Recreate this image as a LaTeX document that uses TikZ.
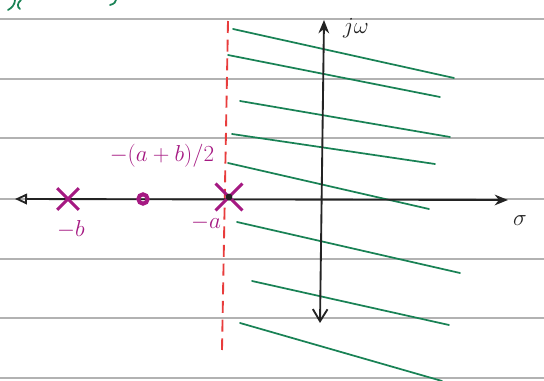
\documentclass[tikz,border=0pt]{standalone}
\usetikzlibrary{arrows.meta,shapes.misc}

\definecolor{pen}{RGB}{35,35,35}
\definecolor{polepen}{RGB}{165,25,130}
\definecolor{hatchpen}{RGB}{25,130,85}
\definecolor{edgepen}{RGB}{232,60,60}
\definecolor{ruling}{RGB}{178,178,178}

\tikzset{every picture/.style={line width=0.75pt}}
\tikzset{
  rule/.style={color=ruling, line width=0.8pt},
  axis/.style={color=pen, line width=1.4pt},
  hatch/.style={color=hatchpen, line width=1.3pt, line cap=round},
  boundary/.style={color=edgepen, line width=1.4pt, dash pattern=on 9pt off 5pt},
  pole/.style={cross out, draw=polepen, line width=2.2pt, inner sep=0pt},
  zero/.style={circle, draw=polepen, line width=3pt, minimum size=7pt, inner sep=0pt},
  polelabel/.style={text=polepen, font=\fontsize{17}{20}\selectfont, inner sep=0.75pt},
  axislabel/.style={text=pen, font=\fontsize{17}{20}\selectfont, inner sep=0.75pt}
}

\begin{document}
\begin{tikzpicture}[x=0.75pt,y=0.75pt,yscale=-1,xscale=1]
\useasboundingbox (0,0) rectangle (544,381);

%Ruled paper
\foreach \yy in {19,79,138,199,259,318,378}
  \draw [rule] (0,\yy) -- (544,\yy) ;

%Cut-off heading
\draw [hatch] (8,10) .. controls (12,8) and (15,4) .. (15,0) ;
\draw [hatch] (21,0) .. controls (17,3) and (17,7) .. (20,9) ;
\draw [hatch] (110,5) .. controls (114,4) and (116,2) .. (116,0) ;

%Hatched region
\draw [hatch] (233,29) -- (454,78) ;
\draw [hatch] (228,55) -- (440,97) ;
\draw [hatch] (240,101) -- (450,137) ;
\draw [hatch] (232,134) -- (435,164) ;
\draw [hatch] (228,163) -- (429,209) ;
\draw [hatch] (237,222) -- (460,273) ;
\draw [hatch] (252,281) -- (449,325) ;
\draw [hatch] (240,323) -- (442,381) ;

%Boundary at -a
\coordinate (bt) at (228,21) ;
\coordinate (bb) at (222,350) ;
\draw [boundary] (bt) -- (bb) ;

%Axes
\coordinate (sl) at (15,199) ;
\coordinate (sr) at (508,200) ;
\coordinate (jt) at (324,20) ;
\coordinate (jb) at (320,323) ;
\draw [axis, {Triangle[open,length=9pt,width=8pt]}-{Stealth[length=10pt,width=8pt]}] (sl) -- (sr) ;
\draw [axis, {Straight Barb[length=9pt,width=11pt]}-{Stealth[length=10pt,width=8pt]}] (jb) -- (jt) ;

% Poles and zero
\node [pole, minimum size=14pt] (pb) at (68,199) {} ;
\node [zero] (zab) at (143,199) {} ;
\node [pole, minimum size=18pt] (pa) at (229,197) {} ;
\fill [pen] (pa) circle [radius=3.4] ;

% Text Node
\node [polelabel] (lb) at (71,229) {$-b$} ;
% Text Node
\node [polelabel] (la) at (206,223) {$-a$} ;
% Text Node
\node [polelabel] (lab) at (162,156) {$-(a+b)/2$} ;
% Text Node
\node [axislabel] (ljw) at (356,28) {$j\omega$} ;
% Text Node
\node [axislabel] (lsig) at (520,221) {$\sigma$} ;

\end{tikzpicture}
\end{document}
